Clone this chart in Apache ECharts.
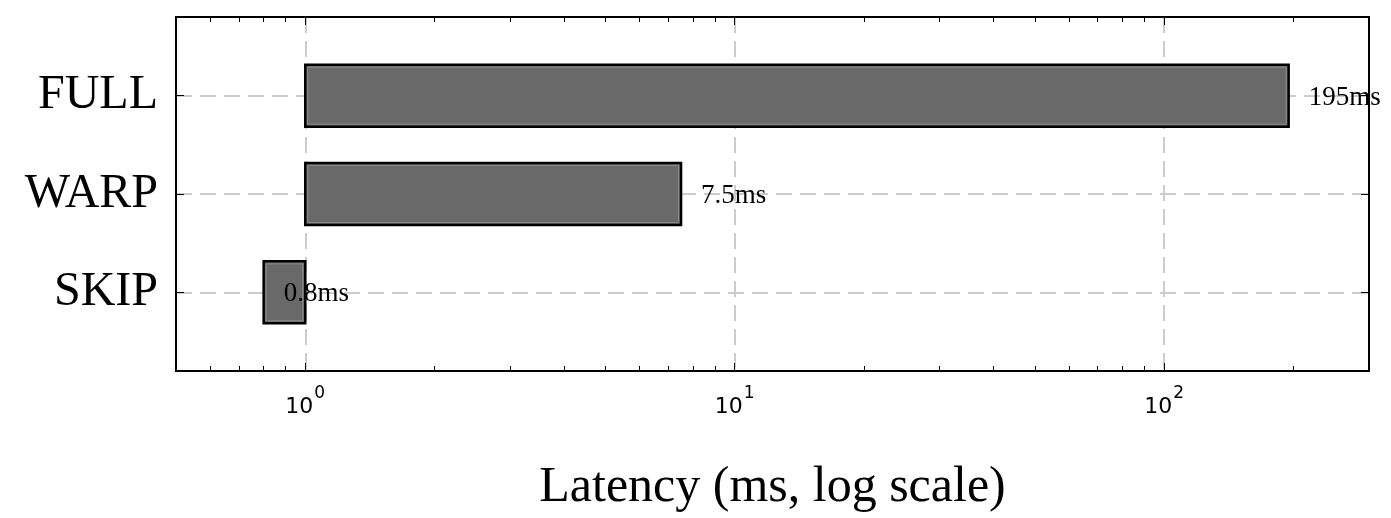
<!DOCTYPE html>
<html><head><meta charset="utf-8">
<script src="https://cdn.jsdelivr.net/npm/echarts@6/dist/echarts.min.js"></script>
<style>html,body{margin:0;padding:0;background:#fff}#c{width:1391px;height:518px}</style>
</head><body><div id="c"></div>
<script>
var categories = ['SKIP', 'WARP', 'FULL'];
var latencies = [0.8, 7.5, 195];
var labels = ['0.8ms', '7.5ms', '195ms'];
var majorTicks = [1, 10, 100];
var minorTicks = [0.5,0.6,0.7,0.8,0.9,2,3,4,5,6,7,8,9,20,30,40,50,60,70,80,90,200,300];
var xLabelText = {1: '0', 10: '1', 100: '2'};

var font = '"Liberation Serif","DejaVu Serif",serif';
var tfont = '"DejaVu Sans",sans-serif';
var chart = echarts.init(document.getElementById('c'));
function xAx(pos, ticks, len, extra) {
  return Object.assign({
    type: 'log', logBase: 10, min: 0.5, max: 300, position: pos,
    axisLine: {show: true, onZero: false, lineStyle: {color: '#000', width: 2}},
    axisTick: {show: true, inside: true, length: len, customValues: ticks, lineStyle: {color: '#000', width: 1}},
    axisLabel: {show: false}, splitLine: {show: false}, minorTick: {show: false}
  }, extra || {});
}
var option = {
  animation: false,
  grid: {left: 176, right: 22, top: 17, bottom: 142},
  xAxis: [
    xAx('bottom', majorTicks, 8, {
      name: 'Latency (ms, log scale)', nameLocation: 'middle', nameGap: 92,
      nameTextStyle: {fontFamily: font, fontSize: 50, color: '#000'},
      axisLabel: {show: true, customValues: majorTicks, margin: 14,
        formatter: function (v) { return '{b|10}{s|' + xLabelText[Math.round(v)] + '}'; },
        rich: {b: {fontFamily: tfont, fontSize: 22, color: '#000', verticalAlign: 'bottom'},
               s: {fontFamily: tfont, fontSize: 17, color: '#000', verticalAlign: 'top', padding: [0,0,16,1]}}},
      splitLine: {show: true, customValues: majorTicks, lineStyle: {color: '#ccc', type: [16, 8], width: 2}}
    }),
    xAx('bottom', minorTicks, 5),
    xAx('top', majorTicks, 8),
    xAx('top', minorTicks, 5)
  ],
  yAxis: [
    {type: 'value', min: -0.8, max: 2.8, position: 'left',
     axisLine: {show: true, lineStyle: {color: '#000', width: 2}},
     axisTick: {show: true, inside: true, length: 8, customValues: [0, 1, 2], lineStyle: {color: '#000'}},
     axisLabel: {show: true, customValues: [0, 1, 2], margin: 18,
       formatter: function (v) { return categories[Math.round(v)]; },
       fontFamily: font, fontSize: 48, color: '#000'},
     splitLine: {show: true, customValues: [0, 1, 2], lineStyle: {color: '#ccc', type: [16, 8], width: 2}}},
    {type: 'value', min: -0.8, max: 2.8, position: 'right',
     axisLine: {show: true, lineStyle: {color: '#000', width: 2}},
     axisTick: {show: true, inside: true, length: 8, customValues: [0, 1, 2], lineStyle: {color: '#000'}},
     axisLabel: {show: false}, splitLine: {show: false}}
  ],
  series: [{
    type: 'custom',
    data: latencies.map(function (v, i) { return [v, i]; }),
    renderItem: function (params, api) {
      var v = api.value(0), i = api.value(1);
      var a = api.coord([1, i]), b = api.coord([v, i]);
      var h = api.size([0, 0.63])[1];
      var x0 = Math.min(a[0], b[0]), x1 = Math.max(a[0], b[0]);
      var t = api.coord([v, i]);
      return {type: 'group', children: [
        {type: 'rect', shape: {x: x0, y: a[1] - h / 2, width: x1 - x0, height: h},
         style: {fill: '#696969', stroke: '#000', lineWidth: 2.5}},
        {type: 'rect', shape: {x: x0 + 2.5, y: a[1] - h / 2 + 2.5, width: x1 - x0 - 5, height: h - 5},
         style: {fill: 'none', stroke: '#8a8a8a', lineWidth: 1}},
        {type: 'text', z2: 10, style: {text: labels[i], x: t[0] + 20, y: t[1] + 2, align: 'left', verticalAlign: 'middle',
          fontFamily: font, fontSize: 27, fill: '#000'}}
      ]};
    }
  }]
};
chart.setOption(option);
</script></body></html>
